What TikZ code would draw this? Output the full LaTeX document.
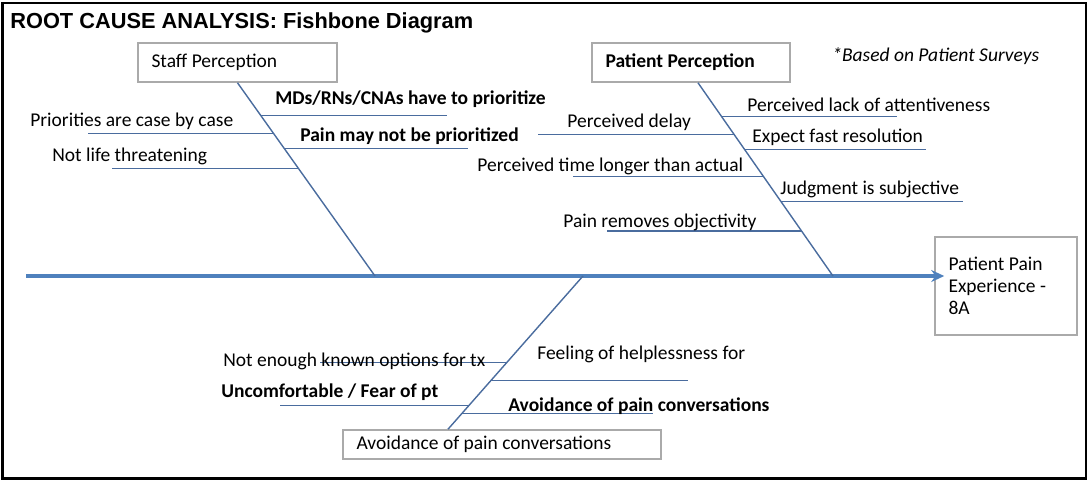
\documentclass[tikz,border=0pt]{standalone}
\usepackage{fontspec}
\setmainfont{Carlito}
\newfontfamily\titlefont{Liberation Sans}
\usetikzlibrary{arrows.meta,calc}
\definecolor{spine}{RGB}{79,129,189}
\definecolor{bonecol}{RGB}{74,108,158}
\definecolor{boxline}{RGB}{170,170,170}
\newcommand\cfont{\fontsize{11.1}{12.7}\selectfont}
\tikzset{
  bone/.style={draw=bonecol,line width=0.8pt},
  cause/.style={anchor=west,inner sep=0pt,font=\cfont,text height=7.5pt,text depth=2.5pt},
  catbox/.style={draw=boxline,line width=0.9pt,text width=#1,inner xsep=0.27cm,inner ysep=0pt,
    minimum height=0.78cm,align=flush left,font=\cfont},
}

\begin{document}
\begin{tikzpicture}[x=0.02cm,y=-0.02cm]
  \useasboundingbox (0,0) rectangle (1089,481);
  % the frame and title
  \draw[line width=1.6pt] (2.5,3) rectangle (1086,478.5);
  \node[anchor=base west,inner sep=0pt,font=\titlefont\bfseries\fontsize{12.4}{14}\selectfont] (title) at (10,28)
    {ROOT CAUSE ANALYSIS: Fishbone Diagram};

  %% the boxes
  \node[catbox=3.44cm] (staff) at (237.5,62.5) {Staff Perception};
  \node[catbox=3.42cm,font=\cfont\bfseries] (pat) at (691,62.5) {Patient Perception};
  \node[catbox=5.82cm,minimum height=0.58cm] (avoid) at (502,444.5) {\raisebox{-2pt}{Avoidance of pain conversations}};
  \node[catbox=2.3cm,minimum height=1.96cm] (effect) at (1006,286) {Patient Pain\\Experience -\\8A\\[2pt]};

  % spine, offset a bit into the effect box
  \coordinate (tail) at (26,276);
  \draw[draw=spine,line width=2pt,-{Stealth[length=0.26cm,width=0.24cm]},shorten >=-0.2cm]
    (tail) -- (effect.west |- tail);

  %% the bones
  \coordinate (staffFoot) at (375,276);
  \coordinate (patTop) at ([xshift=0.14cm]pat.south);
  \coordinate (patFoot) at (833,276);
  \coordinate (helpTop) at (583,276);
  \coordinate (helpFoot) at ([xshift=-1.08cm]avoid.north);
  \draw[bone] (staff.south) -- (staffFoot);
  \draw[bone] (patTop) -- (patFoot);
  \draw[bone] (helpTop) -- (helpFoot);

  % causes: where on the bone / how long
  \foreach \t/\len in {0.17/186,0.263/-186,0.34/184,0.443/-186}
    \draw[bone] ($(staff.south)!\t!(staffFoot)$) -- +(\len,0);
  \foreach \t/\len in {0.175/175,0.268/-196,0.345/181,0.485/-190,0.613/182,0.768/-195}
    \draw[bone] ($(patTop)!\t!(patFoot)$) -- +(\len,0);
  \foreach \t/\len in {0.565/-187,0.682/197,0.844/-189,0.896/191}
    \draw[bone] ($(helpTop)!\t!(helpFoot)$) -- +(\len,0);

  %% staff
  \node[cause,font=\cfont\bfseries] (mds) at (275,100) {MDs/RNs/CNAs have to prioritize};
  \node[cause] (prio) at (30,122) {Priorities are case by case};
  \node[cause,font=\cfont\bfseries] (painprio) at (300,137) {Pain may not be prioritized};
  \node[cause] (notlife) at (52,157) {Not life threatening};

  %% patient
  \node[cause,font=\cfont\itshape] (survey) at (832,57) {*Based on Patient Surveys};
  \node[cause] (lackatt) at (747,107) {Perceived lack of attentiveness};
  \node[cause] (delay) at (567,123) {Perceived delay};
  \node[cause] (fastres) at (752,138) {Expect fast resolution};
  \node[cause] (timelong) at (477,167) {Perceived time longer than actual};
  \node[cause] (judg) at (780,190) {Judgment is subjective};
  \node[cause] (objectiv) at (563,223) {Pain removes objectivity};

  %% avoidance
  \node[cause] (options) at (223,362) {Not enough known options for tx};
  \node[cause] (helpless) at (537,355) {Feeling of helplessness for};
  \node[cause,font=\cfont\bfseries] (fear) at (221,393) {Uncomfortable / Fear of pt};
  \node[cause,font=\cfont\bfseries] (avoidtalk) at (508,407) {Avoidance of pain conversations};
\end{tikzpicture}
\end{document}
